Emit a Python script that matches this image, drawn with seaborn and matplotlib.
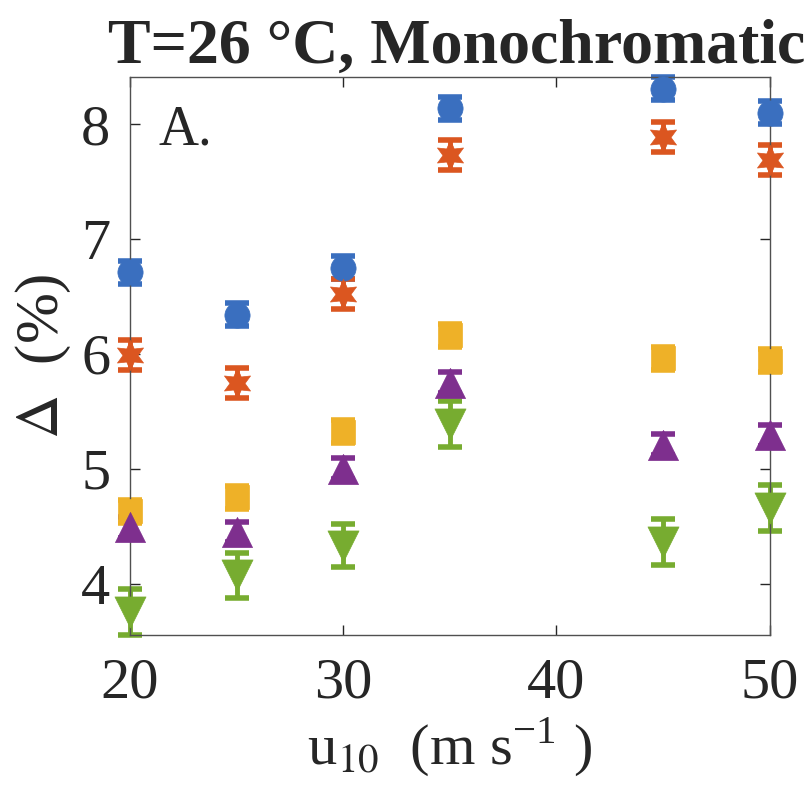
import numpy as np
import pandas as pd
import matplotlib
matplotlib.use("Agg")
import matplotlib.pyplot as plt
import seaborn as sns

# wind speeds (m/s)
u10 = [20, 25, 30, 35, 45, 50]

# Delta (%) per series
s1 = [6.71, 6.34, 6.75, 8.14, 8.31, 8.10]
s2 = [5.99, 5.75, 6.52, 7.73, 7.89, 7.69]
s3 = [4.63, 4.75, 5.32, 6.16, 5.96, 5.94]
s4 = [4.49, 4.45, 5.00, 5.75, 5.21, 5.29]
s5 = [3.75, 4.07, 4.33, 5.39, 4.36, 4.66]

# error bar half-widths
e1 = [0.10] * 6
e2 = [0.13] * 6
e3 = [0.10] * 6
e4 = [0.09] * 6
e5 = [0.20, 0.20, 0.19, 0.20, 0.20, 0.20]

names = ["s1", "s2", "s3", "s4", "s5"]
colors = ["#3A6FBF", "#DB5620", "#EEB128", "#7E2F8E", "#77AC30"]
markers = ["o", (6, 1, 0), "s", "^", "v"]
sizes = [330, 470, 280, 470, 500]

sns.set_style("ticks")
plt.rcParams["font.family"] = ["Liberation Serif", "DejaVu Serif"]
plt.rcParams["mathtext.fontset"] = "stix"

rows = []
for n, ys, es in zip(names, [s1, s2, s3, s4, s5], [e1, e2, e3, e4, e5]):
    for x, y, e in zip(u10, ys, es):
        rows.append([n, x, y, e])
df = pd.DataFrame(rows, columns=["series", "u10", "delta", "err"])

fig = plt.figure(figsize=(8.12, 7.95), dpi=100)
ax = fig.add_axes([0.16, 0.201, 0.788, 0.702])

for n, c in zip(names, colors):
    d = df[df["series"] == n]
    ax.errorbar(d["u10"], d["delta"], yerr=d["err"], fmt="none", ecolor=c,
                elinewidth=3.5, capsize=8.5, capthick=4, zorder=2, clip_on=False)

for n, c, m, s in zip(names, colors, markers, sizes):
    d = df[df["series"] == n]
    sns.scatterplot(data=d, x="u10", y="delta", color=c, marker=m, s=s,
                    edgecolor=c, linewidth=0.5, ax=ax, zorder=3, clip_on=False)

ax.set_xlim(20, 50)
ax.set_ylim(3.55, 8.41)
ax.set_xticks([20, 30, 40, 50])
ax.set_yticks([4, 5, 6, 7, 8])
ax.tick_params(direction="in", length=7, width=1, top=True, right=True,
               labelsize=42, colors="#262626")
ax.tick_params(axis="x", pad=16)
ax.tick_params(axis="y", pad=14)
for sp in ax.spines.values():
    sp.set_visible(True)
    sp.set_linewidth(1.0)
    sp.set_color("#505050")

ax.set_xlabel(r"u$_{10}$  (m s$^{\mathregular{-1}}$ )", fontsize=42, labelpad=4)
ax.set_ylabel(r"$\Delta$  (%)", fontsize=44, labelpad=6)
ax.set_title("T=26 °C, Monochromatic", fontsize=46, fontweight="bold", pad=10,
             x=0.51)
ax.text(0.045, 0.88, "A.", transform=ax.transAxes, fontsize=40, va="baseline")

fig.savefig("out.png", dpi=100, facecolor="white")
